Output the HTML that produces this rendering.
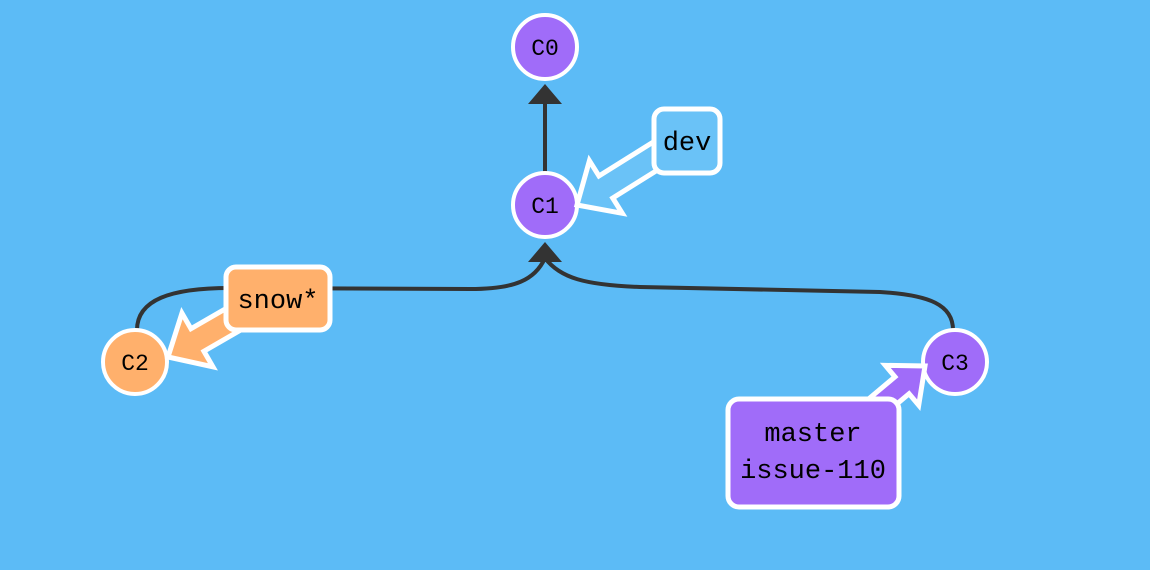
<!DOCTYPE html>
<html><head><style>
html,body{margin:0;padding:0;background:#5cbbf6;}
svg{display:block}
text{font-family:"Liberation Mono","DejaVu Sans Mono",monospace;fill:#000}
</style></head><body>
<svg width="1150" height="570" viewBox="0 0 1150 570">
<rect width="1150" height="570" fill="#5cbbf6"/>
<!-- edges -->
<g stroke="#333" stroke-width="4" fill="none">
<line x1="545" y1="172" x2="545" y2="100"/>
<path d="M137 330 C137 300 170 288 230 288 L470 289 C515 289 535 280 545 258"/>
<path d="M953 330 C953 305 930 295 880 292 L640 287 C585 285 560 278 545 258"/>
</g>
<g fill="#333">
<polygon points="545,84 528,104 562,104"/>
<polygon points="545,242 528,262 562,262"/>
</g>
<!-- nodes -->
<g stroke="#fff" stroke-width="4">
<circle cx="545" cy="47" r="32" fill="#a06cf9"/>
<circle cx="545" cy="205" r="32" fill="#a06cf9"/>
<circle cx="135" cy="362" r="32" fill="#ffb06c"/>
<circle cx="955" cy="362" r="32" fill="#a06cf9"/>
</g>
<g font-size="23" text-anchor="middle">
<text x="545" y="55">C0</text>
<text x="545" y="213">C1</text>
<text x="135" y="370">C2</text>
<text x="955" y="370">C3</text>
</g>
<!-- fat arrows -->
<g stroke="#fff" stroke-width="5" stroke-linejoin="miter">
<polygon transform="translate(168,357) rotate(150)" fill="#ffb06c" points="-100,-13 -34,-13 -34,-31 0,0 -34,31 -34,13 -100,13"/>
<polygon transform="translate(577,205) rotate(148)" fill="#6ac2f7" points="-110,-13 -34,-13 -34,-31 0,0 -34,31 -34,13 -110,13"/>
<polygon transform="translate(925,366) rotate(-40)" fill="#a06cf9" points="-80,-11 -30,-11 -30,-26 0,0 -30,26 -30,11 -80,11"/>
</g>
<!-- label boxes -->
<g stroke="#fff" stroke-width="5">
<rect x="226" y="267" width="104" height="63" rx="10" fill="#ffb06c"/>
<rect x="654" y="109" width="66" height="64" rx="10" fill="#6ac2f7"/>
<rect x="728" y="399" width="171" height="108" rx="11" fill="#a06cf9"/>
</g>
<g font-size="27" text-anchor="middle">
<text x="278" y="308">snow*</text>
<text x="687" y="150">dev</text>
<text x="813" y="441">master</text>
<text x="813" y="478">issue-110</text>
</g>
</svg>
</body></html>
